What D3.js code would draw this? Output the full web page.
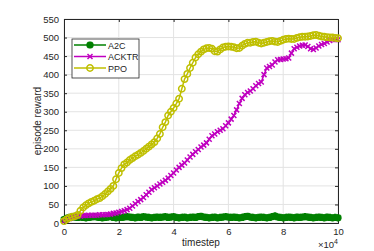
<!DOCTYPE html>
<html>
<head>
<meta charset="utf-8">
<script src="https://cdn.jsdelivr.net/npm/d3@7"></script>
<style>
  body { margin: 0; background: #fff; }
  text { font-family: "Liberation Sans", Arial, sans-serif; fill: #262626; }
</style>
</head>
<body>
<div id="chart"></div>
<script>
var width = 374,
    height = 251,
    margin = { top: 19, right: 36, bottom: 28, left: 64 };

// timestep in units of 1e4, one reading every 0.1
var steps = d3.range(0, 101).map(function (i) { return i / 10; });

var ppo = [5, 10, 14, 17, 18, 22, 33, 42, 48, 53,
    57, 60, 64, 67, 72, 78, 85, 92, 100, 118,
    135, 148, 158, 163, 170, 175, 180, 184, 189, 194,
    200, 206, 212, 218, 228, 240, 258, 272, 290, 300,
    310, 322, 335, 362, 388, 402, 418, 432, 446, 455,
    462, 468, 471, 472, 470, 463, 462, 468, 473, 475,
    476, 475, 474, 471, 472, 478, 483, 486, 486, 488,
    489, 486, 484, 486, 488, 490, 491, 489, 488, 491,
    494, 496, 497, 496, 496, 499, 501, 502, 502, 503,
    504, 506, 507, 505, 503, 502, 501, 500, 500, 499, 498];

var acktr = [5, 9, 12, 15, 17, 18, 19, 20, 20, 21,
    21, 21, 21, 22, 22, 22, 23, 24, 26, 27,
    29, 31, 33, 36, 40, 46, 52, 58, 63, 69,
    76, 83, 90, 95, 100, 105, 110, 115, 121, 128,
    135, 143, 150, 156, 162, 170, 178, 185, 192, 198,
    205, 210, 216, 226, 235, 240, 246, 250, 254, 262,
    270, 280, 290, 305, 322, 336, 346, 352, 356, 362,
    370, 376, 380, 400, 418, 422, 426, 434, 440, 441,
    442, 443, 445, 458, 470, 474, 477, 479, 480, 476,
    470, 468, 472, 477, 481, 484, 488, 492, 495, 495, 494];

var a2c = [9, 13, 15, 16, 16, 15, 16, 15, 14, 15,
    16, 17, 16, 15, 14, 15, 16, 17, 15, 14,
    16, 15, 16, 17, 16, 15, 14, 16, 15, 17,
    16, 15, 14, 15, 16, 15, 16, 17, 15, 16,
    17, 15, 14, 15, 16, 14, 15, 16, 15, 17,
    18, 16, 15, 14, 15, 16, 14, 15, 16, 17,
    16, 15, 16, 15, 14, 15, 17, 18, 16, 15,
    14, 15, 16, 15, 14, 15, 17, 19, 16, 15,
    14, 15, 16, 15, 14, 16, 15, 16, 17, 16,
    15, 14, 15, 16, 15, 14, 16, 15, 14, 15, 14];

var series = [
    { name: "A2C", values: a2c, color: "#008000", marker: "star" },
    { name: "ACKTR", values: acktr, color: "#c000c0", marker: "cross" },
    { name: "PPO", values: ppo, color: "#bfbf00", marker: "circle" }
];

var xTicks = [0, 2, 4, 6, 8, 10],
    yTicks = d3.range(0, 551, 50);

var svg = d3.select("#chart").append("svg")
    .attr("width", width)
    .attr("height", height);

var iw = width - margin.left - margin.right,
    ih = height - margin.top - margin.bottom;

var x = d3.scaleLinear().domain([0, 10]).range([margin.left, margin.left + iw]);
var y = d3.scaleLinear().domain([0, 550]).range([margin.top + ih, margin.top]);

// grid
svg.append("g")
    .selectAll("line")
    .data(xTicks)
    .enter().append("line")
    .attr("x1", function (d) { return x(d); })
    .attr("x2", function (d) { return x(d); })
    .attr("y1", y(0)).attr("y2", y(550))
    .attr("stroke", "#e3e3e3").attr("stroke-width", 1);

svg.append("g")
    .selectAll("line")
    .data(yTicks)
    .enter().append("line")
    .attr("x1", x(0)).attr("x2", x(10))
    .attr("y1", function (d) { return y(d); })
    .attr("y2", function (d) { return y(d); })
    .attr("stroke", "#e3e3e3").attr("stroke-width", 1);

// axes (box with inward ticks on all sides)
var xAxis = svg.append("g")
    .attr("transform", "translate(0," + y(0) + ")")
    .call(d3.axisBottom(x).tickValues(xTicks).tickSize(-3).tickPadding(5).tickFormat(d3.format("d")));
var xTop = svg.append("g")
    .attr("transform", "translate(0," + y(550) + ")")
    .call(d3.axisTop(x).tickValues(xTicks).tickSize(-3).tickFormat(""));
var yAxis = svg.append("g")
    .attr("transform", "translate(" + x(0) + ",0)")
    .call(d3.axisLeft(y).tickValues(yTicks).tickSize(-3).tickPadding(5));
var yRight = svg.append("g")
    .attr("transform", "translate(" + x(10) + ",0)")
    .call(d3.axisRight(y).tickValues(yTicks).tickSize(-3).tickFormat(""));

[xAxis, xTop, yAxis, yRight].forEach(function (a) {
    a.selectAll("path").attr("stroke", "#262626").attr("stroke-width", 1);
    a.selectAll("line").attr("stroke", "#262626");
    a.selectAll("text").style("font-size", "9.5px").attr("fill", "#262626")
        .style("font-family", "'Liberation Sans', Arial, sans-serif");
});

// labels
svg.append("text")
    .attr("x", (x(0) + x(10)) / 2).attr("y", 246)
    .attr("text-anchor", "middle").style("font-size", "10px")
    .text("timestep");

svg.append("text")
    .attr("transform", "translate(41," + (y(0) + y(550)) / 2 + ") rotate(-90)")
    .attr("text-anchor", "middle").style("font-size", "10px")
    .text("episode reward");

var exp = svg.append("text")
    .attr("x", x(10)).attr("y", 248)
    .attr("text-anchor", "end").style("font-size", "9.5px");
exp.append("tspan").text("\u00d710");
exp.append("tspan").attr("dy", -4).style("font-size", "7px").text("4");

// markers
function drawMarker(sel, type, color) {
    if (type === "circle") {
        sel.append("circle").attr("r", 3.2)
            .attr("fill", "none").attr("stroke", color).attr("stroke-width", 1.5);
    } else if (type === "cross") {
        sel.append("path").attr("d", "M-2.5,-2.5L2.5,2.5M-2.5,2.5L2.5,-2.5")
            .attr("stroke", color).attr("stroke-width", 1.5);
    } else {
        sel.append("path").attr("d", "M-3.6,0L3.6,0M0,-3.6L0,3.6M-2.7,-2.7L2.7,2.7M-2.7,2.7L2.7,-2.7")
            .attr("stroke", color).attr("stroke-width", 2.4);
    }
}

var line = d3.line()
    .x(function (d, i) { return x(steps[i]); })
    .y(function (d) { return y(d); });

var plot = svg.append("g");

series.forEach(function (s) {
    var g = plot.append("g");
    g.append("path")
        .attr("d", line(s.values))
        .attr("fill", "none")
        .attr("stroke", s.color)
        .attr("stroke-width", 1.5);
    g.selectAll("g")
        .data(s.values)
        .enter().append("g")
        .attr("transform", function (d, i) { return "translate(" + x(steps[i]) + "," + y(d) + ")"; })
        .each(function () { drawMarker(d3.select(this), s.marker, s.color); });
});

// legend
var leg = svg.append("g").attr("transform", "translate(72,39)");
leg.append("rect")
    .attr("width", 67).attr("height", 39)
    .attr("fill", "#fff").attr("stroke", "#262626").attr("stroke-width", 0.8);

series.forEach(function (s, i) {
    var row = leg.append("g").attr("transform", "translate(0," + (6 + i * 11.5) + ")");
    row.append("line")
        .attr("x1", 2).attr("x2", 34)
        .attr("stroke", s.color).attr("stroke-width", 1.5);
    var m = row.append("g").attr("transform", "translate(18,0)");
    drawMarker(m, s.marker, s.color);
    row.append("text")
        .attr("x", 36).attr("y", 3.5)
        .style("font-size", "9px")
        .text(s.name);
});
</script>
</body>
</html>
